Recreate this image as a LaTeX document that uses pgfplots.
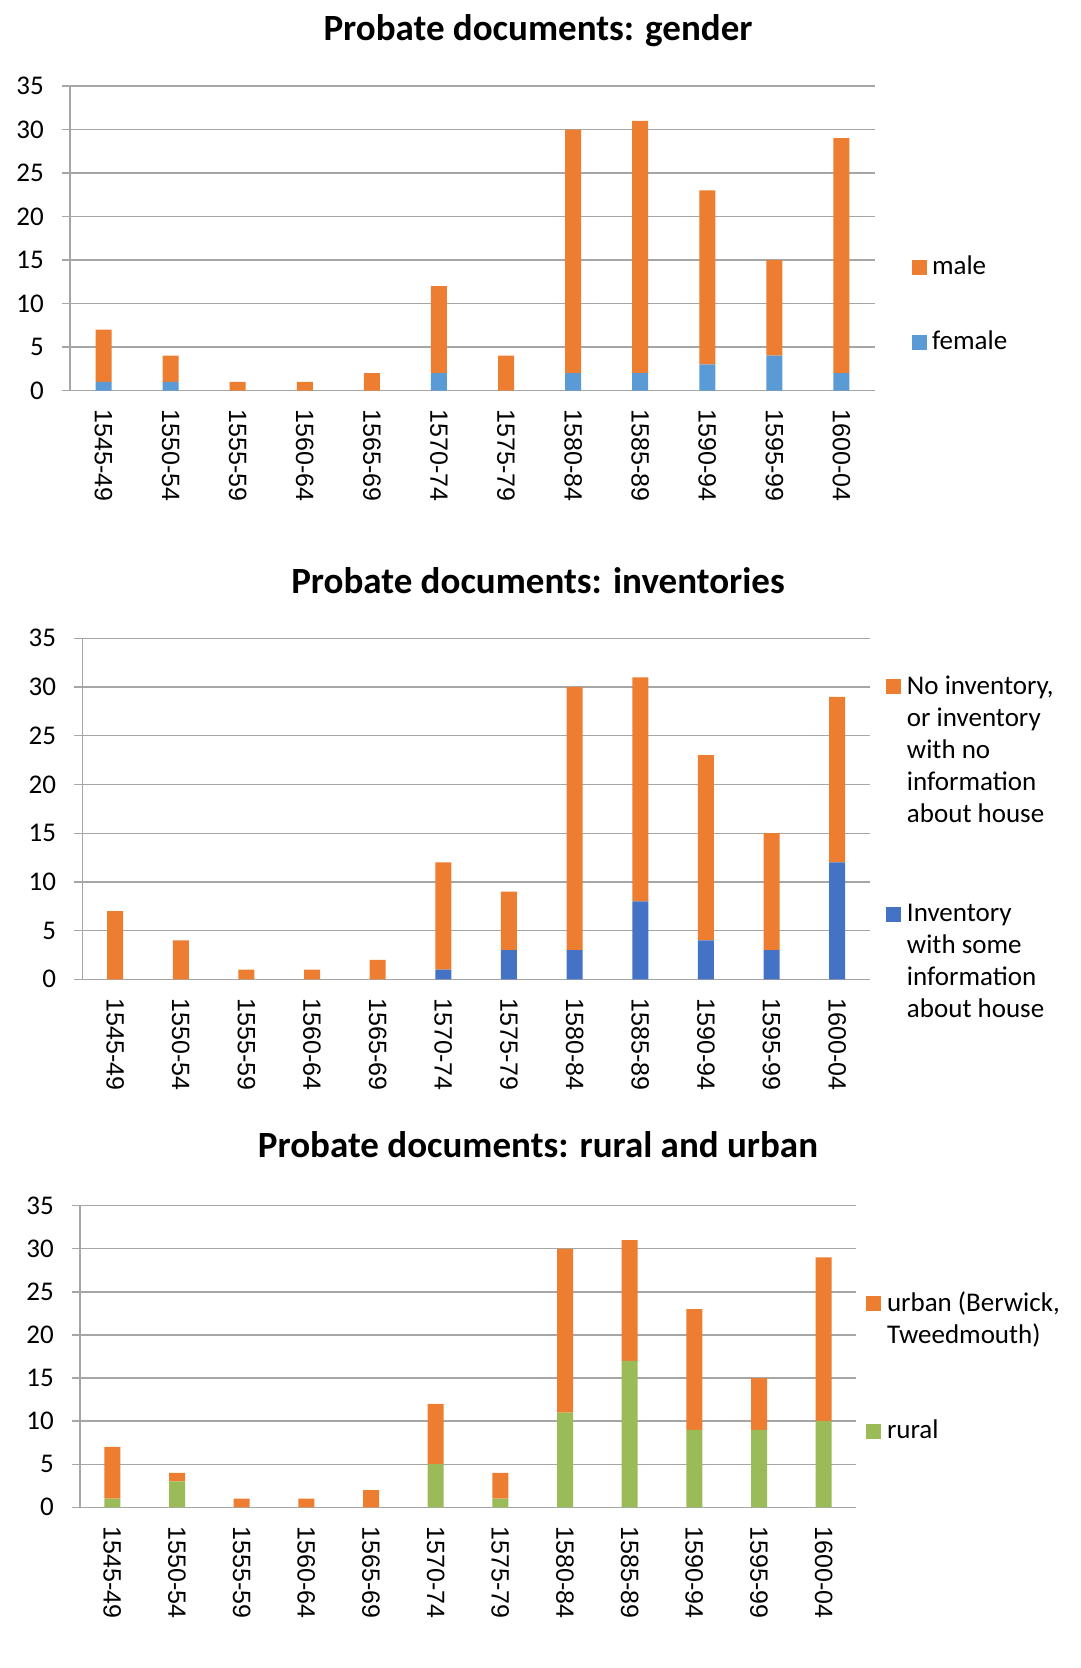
\documentclass[border=0pt]{standalone}
\usepackage{fontspec}
\setmainfont{Carlito}
\newfontfamily\labfamily{Liberation Sans}
\usepackage{pgfplots}
\pgfplotsset{compat=1.18}
\definecolor{xorange}{HTML}{ED7D31}
\definecolor{xblueA}{HTML}{5B9BD5}
\definecolor{xblueB}{HTML}{4472C4}
\definecolor{xgreen}{HTML}{9BBB59}
\definecolor{gridgray}{HTML}{A6A6A6}
\newcommand\tickfont{\fontsize{27}{32}\selectfont}
\newcommand\xlabfont{\labfamily\fontsize{25}{29}\selectfont}
\newcommand\legfont{\fontsize{27}{32}\selectfont}
\newcommand\titlefont{\bfseries\fontsize{37}{42}\selectfont}
\pgfplotsset{
  probate/.style={
    scale only axis,
    ybar stacked, bar width=16pt,
    enlargelimits=false,
    xmin=-0.5, xmax=11.5, ymin=0, ymax=35,
    ytick={0,5,...,35},
    xtick={0,...,11},
    xticklabels={1545-49,1550-54,1555-59,1560-64,1565-69,1570-74,1575-79,1580-84,1585-89,1590-94,1595-99,1600-04},
    axis x line*=bottom, axis y line*=left,
    axis line style={-, draw=gridgray, line width=1.3pt},
    ymajorgrids, major grid style={draw=gridgray, line width=1.3pt},
    tick align=outside, major tick length=8pt,
    ytick style={draw=gridgray, line width=1.3pt},
    xtick style={draw=none},
    /pgf/number format/assume math mode=true,
    yticklabel style={font=\tickfont, anchor=east, inner sep=0pt, xshift=-18pt},
    xticklabel style={font=\xlabfont, rotate=-90, anchor=west, inner sep=0pt, xshift=11pt},
    reverse legend,
    legend image code/.code={\fill[##1,draw=none] (0pt,0pt) rectangle (15pt,15pt);},
    legend style={draw=none, fill=none, inner sep=0pt, outer sep=0pt, font=\legfont,
      cells={anchor=base west}, nodes={inner sep=0pt}, anchor=north west},
  }
}
\begin{document}
\begin{tikzpicture}
\path[use as bounding box] (0pt,0pt) rectangle (1080pt,-1668pt);
% ---------- chart 1 ----------
\node[font=\titlefont, anchor=base] at (538pt,-40pt) {Probate documents: gender};
\begin{axis}[probate, at={(70pt,-86pt)}, anchor=north west, width=805pt, height=304.5pt,
  legend style={at={(1.046,0.4529)}, row sep=51pt, column sep=5pt}]
\addplot[fill=xblueA, draw=none] coordinates {(0,1) (1,1) (2,0) (3,0) (4,0) (5,2) (6,0) (7,2) (8,2) (9,3) (10,4) (11,2)};
\addlegendentry{\begin{tabular}[t]{@{}l@{}}female\end{tabular}}
\addplot[fill=xorange, draw=none] coordinates {(0,6) (1,3) (2,1) (3,1) (4,2) (5,10) (6,4) (7,28) (8,29) (9,20) (10,11) (11,27)};
\addlegendentry{\begin{tabular}[t]{@{}l@{}}male\end{tabular}}
\end{axis}
% ---------- chart 2 ----------
\node[font=\titlefont, anchor=base] at (538pt,-593.5pt) {Probate documents: inventories};
\begin{axis}[probate, at={(82.3pt,-638.3pt)}, anchor=north west, width=787.7pt, height=341pt,
  legend style={at={(1.0203,0.9023)}, row sep=204pt, column sep=6pt}]
\addplot[fill=xblueB, draw=none] coordinates {(0,0) (1,0) (2,0) (3,0) (4,0) (5,1) (6,3) (7,3) (8,8) (9,4) (10,3) (11,12)};
\addlegendentry{\begin{tabular}[t]{@{}l@{}}Inventory\\with some\\information\\about house\end{tabular}}
\addplot[fill=xorange, draw=none] coordinates {(0,7) (1,4) (2,1) (3,1) (4,2) (5,11) (6,6) (7,27) (8,23) (9,19) (10,12) (11,17)};
\addlegendentry{\begin{tabular}[t]{@{}l@{}}No inventory,\\or inventory\\with no\\information\\about house\end{tabular}}
\end{axis}
% ---------- chart 3 ----------
\node[font=\titlefont, anchor=base] at (538pt,-1157.5pt) {Probate documents: rural and urban};
\begin{axis}[probate, at={(80pt,-1205.7pt)}, anchor=north west, width=776pt, height=301.6pt,
  legend style={at={(1.0129,0.7251)}, row sep=104pt, column sep=6pt}]
\addplot[fill=xgreen, draw=none] coordinates {(0,1) (1,3) (2,0) (3,0) (4,0) (5,5) (6,1) (7,11) (8,17) (9,9) (10,9) (11,10)};
\addlegendentry{\begin{tabular}[t]{@{}l@{}}rural\end{tabular}}
\addplot[fill=xorange, draw=none] coordinates {(0,6) (1,1) (2,1) (3,1) (4,2) (5,7) (6,3) (7,19) (8,14) (9,14) (10,6) (11,19)};
\addlegendentry{\begin{tabular}[t]{@{}l@{}}urban (Berwick,\\Tweedmouth)\end{tabular}}
\end{axis}
\end{tikzpicture}
\end{document}
